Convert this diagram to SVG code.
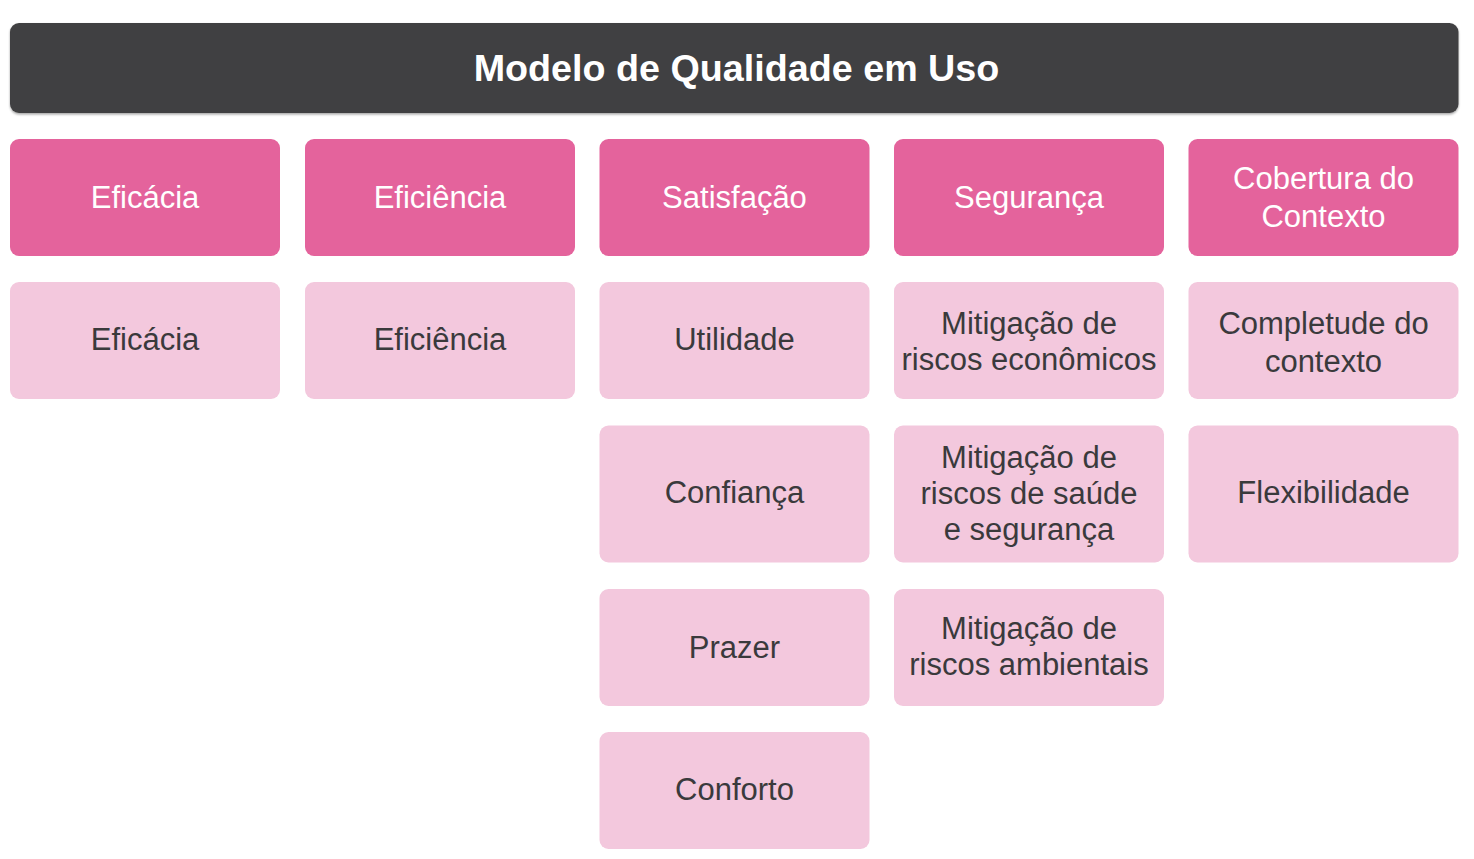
<svg xmlns="http://www.w3.org/2000/svg" width="1474" height="859" viewBox="0 0 1474 859">
<defs>
<style>
.hdr{fill:#414042}
.cat{fill:#e4639c}
.sub{fill:#f3c8dd}
.ht{font-family:"Liberation Sans",Arial,sans-serif;font-weight:bold;font-size:37.7px;fill:#ffffff;text-anchor:middle}
.ct{font-family:"Liberation Sans",Arial,sans-serif;font-size:31px;fill:#ffffff;text-anchor:middle}
.st{font-family:"Liberation Sans",Arial,sans-serif;font-size:31px;fill:#3a3a3c;text-anchor:middle}
</style>
<filter id="sh" x="-5%" y="-20%" width="110%" height="150%">
<feDropShadow dx="0" dy="1.5" stdDeviation="1" flood-color="#000" flood-opacity="0.35"/>
</filter>
</defs>
<rect width="1474" height="859" fill="#ffffff"/>
<g id="title">
<rect class="hdr" x="10" y="23" width="1448.5" height="90" rx="9" filter="url(#sh)"/>
<text class="ht" x="736.5" y="81">Modelo de Qualidade em Uso</text>
</g>
<g id="connectors"></g>
<g id="eficacia-cat"><rect class="cat" x="10" y="139" width="270" height="117" rx="9"/><text class="ct" x="145" y="207.5">Eficácia</text></g>
<g id="eficiencia-cat"><rect class="cat" x="305" y="139" width="270" height="117" rx="9"/><text class="ct" x="440" y="207.5">Eficiência</text></g>
<g id="satisfacao-cat"><rect class="cat" x="599.5" y="139" width="270" height="117" rx="9"/><text class="ct" x="734.5" y="207.5">Satisfação</text></g>
<g id="seguranca-cat"><rect class="cat" x="894" y="139" width="270" height="117" rx="9"/><text class="ct" x="1029" y="207.5">Segurança</text></g>
<g id="cobertura-cat"><rect class="cat" x="1188.5" y="139" width="270" height="117" rx="9"/><text class="ct" x="1323.5" y="188.5">Cobertura do</text><text class="ct" x="1323.5" y="226.5">Contexto</text></g>

<g id="eficacia"><rect class="sub" x="10" y="282" width="270" height="117" rx="9"/><text class="st" x="145" y="349.5">Eficácia</text></g>
<g id="eficiencia"><rect class="sub" x="305" y="282" width="270" height="117" rx="9"/><text class="st" x="440" y="349.5">Eficiência</text></g>
<g id="utilidade"><rect class="sub" x="599.5" y="282" width="270" height="117" rx="9"/><text class="st" x="734.5" y="349.5">Utilidade</text></g>
<g id="riscos-economicos"><rect class="sub" x="894" y="282" width="270" height="117" rx="9"/><text class="st" x="1029" y="334">Mitigação de</text><text class="st" x="1029" y="370">riscos econômicos</text></g>
<g id="completude"><rect class="sub" x="1188.5" y="282" width="270" height="117" rx="9"/><text class="st" x="1323.5" y="334">Completude do</text><text class="st" x="1323.5" y="372">contexto</text></g>

<g id="confianca"><rect class="sub" x="599.5" y="425.5" width="270" height="137" rx="9"/><text class="st" x="734.5" y="503">Confiança</text></g>
<g id="riscos-saude"><rect class="sub" x="894" y="425.5" width="270" height="137" rx="9"/><text class="st" x="1029" y="468">Mitigação de</text><text class="st" x="1029" y="504">riscos de saúde</text><text class="st" x="1029" y="540">e segurança</text></g>
<g id="flexibilidade"><rect class="sub" x="1188.5" y="425.5" width="270" height="137" rx="9"/><text class="st" x="1323.5" y="503">Flexibilidade</text></g>

<g id="prazer"><rect class="sub" x="599.5" y="589" width="270" height="117" rx="9"/><text class="st" x="734.5" y="657.5">Prazer</text></g>
<g id="riscos-ambientais"><rect class="sub" x="894" y="589" width="270" height="117" rx="9"/><text class="st" x="1029" y="639">Mitigação de</text><text class="st" x="1029" y="675">riscos ambientais</text></g>

<g id="conforto"><rect class="sub" x="599.5" y="732" width="270" height="117" rx="9"/><text class="st" x="734.5" y="800">Conforto</text></g>
</svg>
